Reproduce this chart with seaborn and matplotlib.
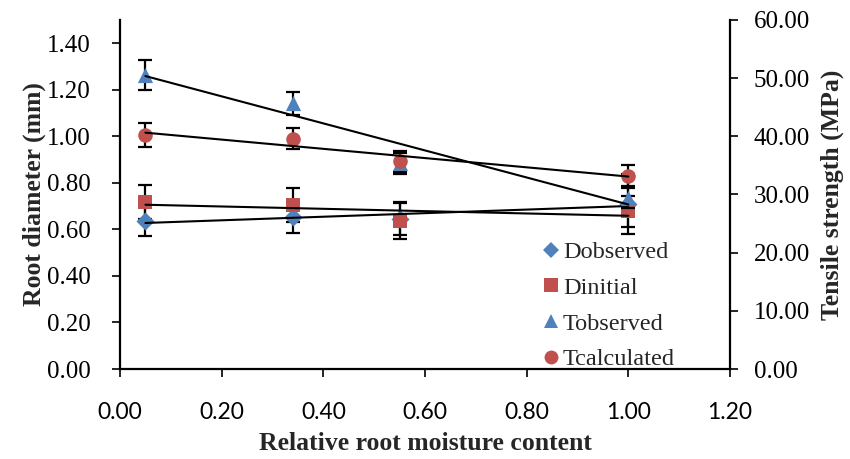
import numpy as np
import pandas as pd
import matplotlib
matplotlib.use("Agg")
import matplotlib.pyplot as plt
import seaborn as sns
from matplotlib.lines import Line2D

# ---- data ----
moisture = [0.05, 0.34, 0.55, 1.00]
d_observed = [0.634, 0.655, 0.645, 0.710]
d_observed_err = [0.062, 0.070, 0.070, 0.130]
d_initial = [0.717, 0.705, 0.638, 0.677]
d_initial_err = [0.073, 0.075, 0.080, 0.065]
t_observed = [50.5, 45.7, 35.4, 29.4]
t_observed_err = [2.6, 2.0, 1.8, 1.8]
t_calculated = [40.2, 39.6, 35.7, 33.2]
t_calculated_err = [2.1, 1.8, 1.8, 1.8]

x_ticks = [0.0, 0.2, 0.4, 0.6, 0.8, 1.0, 1.2]
y_left_ticks = [0.0, 0.2, 0.4, 0.6, 0.8, 1.0, 1.2, 1.4]
y_right_ticks = [0, 10, 20, 30, 40, 50, 60]

BLUE = "#4F81BD"
RED = "#C0504D"

sns.set_theme(style="white")
plt.rcParams["font.family"] = ["Liberation Serif", "DejaVu Serif"]

fig = plt.figure(figsize=(8.5, 4.59), dpi=100)
ax = fig.add_axes([120 / 850, 1 - 369 / 459, 610 / 850, 349 / 459])
ax2 = ax.twinx()

df_d = pd.DataFrame({"x": moisture, "dobs": d_observed, "dini": d_initial})
df_t = pd.DataFrame({"x": moisture, "tobs": t_observed, "tcal": t_calculated})

# error bars (below markers)
ekw = dict(fmt="none", ecolor="black", elinewidth=1.6, capsize=5, capthick=1.6, zorder=1)
ax.errorbar(moisture, d_observed, yerr=d_observed_err, **ekw)
ax.errorbar(moisture, d_initial, yerr=d_initial_err, **ekw)
ax2.errorbar(moisture, t_observed, yerr=t_observed_err, **ekw)
ax2.errorbar(moisture, t_calculated, yerr=t_calculated_err, **ekw)

# markers
sns.scatterplot(data=df_d, x="x", y="dobs", ax=ax, marker="D", s=85, color=BLUE,
                edgecolor=BLUE, linewidth=0, zorder=2)
sns.scatterplot(data=df_d, x="x", y="dini", ax=ax, marker="s", s=110, color=RED,
                edgecolor=RED, linewidth=0, zorder=2)
sns.scatterplot(data=df_t, x="x", y="tobs", ax=ax2, marker="^", s=120, color=BLUE,
                edgecolor=BLUE, linewidth=0, zorder=2)
sns.scatterplot(data=df_t, x="x", y="tcal", ax=ax2, marker="o", s=110, color=RED,
                edgecolor=RED, linewidth=0, zorder=2)

# linear trend lines
kw = dict(scatter=False, ci=None, truncate=True, color="black",
          line_kws={"linewidth": 1.5, "zorder": 3})
sns.regplot(data=df_d, x="x", y="dobs", ax=ax, **kw)
sns.regplot(data=df_d, x="x", y="dini", ax=ax, **kw)
sns.regplot(data=df_t, x="x", y="tobs", ax=ax2, **kw)
sns.regplot(data=df_t, x="x", y="tcal", ax=ax2, **kw)

# axes setup
ax.set_xlim(0, 1.2)
ax.set_ylim(0, 1.5)
ax2.set_ylim(0, 60)
ax.set_xticks(x_ticks)
ax.set_xticklabels([f"{v:.2f}" for v in x_ticks], fontfamily="Lato", fontsize=16.5)
ax.set_yticks(y_left_ticks)
ax.set_yticklabels([f"{v:.2f}" for v in y_left_ticks], fontsize=18)
ax2.set_yticks(y_right_ticks)
ax2.set_yticklabels([f"{v:.2f}" for v in y_right_ticks], fontsize=18)

for a in (ax, ax2):
    a.grid(False)
    a.set_facecolor("none")
    a.spines["top"].set_visible(False)
    for s in ("left", "right", "bottom"):
        a.spines[s].set_color("black")
        a.spines[s].set_linewidth(1.6)
ax.spines["right"].set_visible(False)
ax2.spines["left"].set_visible(False)
ax2.spines["bottom"].set_visible(False)

ax.tick_params(axis="both", direction="out", length=6, width=1.2, color="black",
               labelcolor="black", left=True, bottom=True)
ax.tick_params(axis="y", pad=15)
ax.tick_params(axis="x", pad=18)
ax2.tick_params(axis="y", direction="out", length=6, width=1.2, color="black",
                labelcolor="black", right=True, pad=11)

ax.set_xlabel("Relative root moisture content", fontsize=18.5, fontweight="bold", labelpad=6)
ax.set_ylabel("Root diameter (mm)", fontsize=18.5, fontweight="bold", labelpad=1)
ax2.set_ylabel("Tensile strength (MPa)", fontsize=18.5, fontweight="bold", labelpad=8)

handles = [
    Line2D([], [], marker="D", linestyle="none", color=BLUE, markersize=8, markeredgewidth=0),
    Line2D([], [], marker="s", linestyle="none", color=RED, markersize=10, markeredgewidth=0),
    Line2D([], [], marker="^", linestyle="none", color=BLUE, markersize=10, markeredgewidth=0),
    Line2D([], [], marker="o", linestyle="none", color=RED, markersize=10, markeredgewidth=0),
]
labels = ["Dobserved", "Dinitial", "Tobserved", "Tcalculated"]
leg = ax2.legend(handles, labels, loc="upper left", bbox_to_anchor=(0.694, 0.366),
                 frameon=False, fontsize=17.5, handlelength=0.6, handletextpad=0.2,
                 labelspacing=0.56, borderpad=0, borderaxespad=0)

fig.savefig("out.png", dpi=100)
